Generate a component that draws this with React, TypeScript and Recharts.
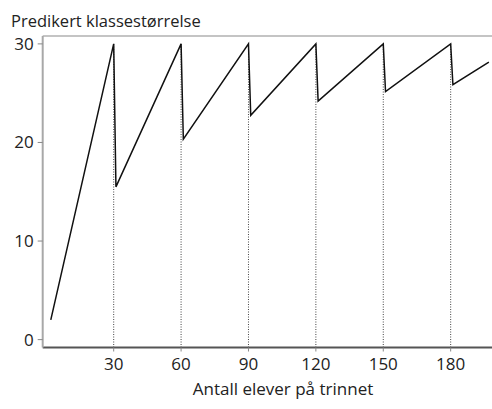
import React from "react";
import { LineChart, Line, XAxis, YAxis, ReferenceLine } from "recharts";

const students = [2, 30, 31, 60, 61, 90, 91, 120, 121, 150, 151, 180, 181, 197];
const classSize = [2, 30, 15.5, 30, 20.33, 30, 22.75, 30, 24.2, 30, 25.17, 30, 25.86, 28.14];
const xTicks = [30, 60, 90, 120, 150, 180];
const yTicks = [0, 10, 20, 30];
const cutoffs = [30, 60, 90, 120, 150, 180];

const X_DOMAIN: [number, number] = [-1.6, 198.4];
const Y_DOMAIN: [number, number] = [-0.8, 30.8];

const data = students.map((n, i) => ({ n, v: classSize[i] }));

const FONT = "'Open Sans', 'Noto Sans', sans-serif";

export default function App() {
  return (
    <div style={{ position: "absolute", left: 0, top: 0, width: 492, height: 409, background: "#fff" }}>
      <LineChart
        width={492}
        height={409}
        data={data}
        margin={{ top: 36, right: 0, bottom: 0, left: 0 }}
      >
        <XAxis
          dataKey="n"
          type="number"
          domain={X_DOMAIN}
          ticks={xTicks}
          height={61.5}
          axisLine={{ stroke: "#555", strokeWidth: 2 }}
          tickLine={{ stroke: "#888" }}
          tickSize={4}
          tickMargin={6}
          tick={{ fill: "#222", fontSize: 17, fontFamily: FONT }}
          allowDataOverflow
        />
        <YAxis
          type="number"
          domain={Y_DOMAIN}
          ticks={yTicks}
          width={42.7}
          axisLine={{ stroke: "#a8a8a8", strokeWidth: 2 }}
          tickLine={{ stroke: "#888" }}
          tickSize={5}
          tickMargin={4}
          tick={{ fill: "#222", fontSize: 17, fontFamily: FONT }}
          allowDataOverflow
        />
        <ReferenceLine y={Y_DOMAIN[1]} stroke="#b0b0b0" strokeWidth={1.5} ifOverflow="visible" />
        {cutoffs.map((c) => (
          <ReferenceLine
            key={c}
            segment={[{ x: c, y: Y_DOMAIN[0] }, { x: c, y: 30 }]}
            stroke="#444"
            strokeDasharray="1 1.5"
            strokeWidth={1}
            ifOverflow="visible"
          />
        ))}
        <Line
          type="linear"
          dataKey="v"
          stroke="#111"
          strokeWidth={1.5}
          dot={false}
          isAnimationActive={false}
        />
      </LineChart>
      <div
        style={{
          position: "absolute",
          left: 11,
          top: 8.5,
          fontFamily: FONT,
          fontSize: 16.5,
          lineHeight: "normal",
          color: "#222",
          whiteSpace: "nowrap",
        }}
      >
        Predikert klassestørrelse
      </div>
      <div
        style={{
          position: "absolute",
          left: 283,
          top: 376.8,
          transform: "translateX(-50%)",
          fontFamily: FONT,
          fontSize: 17,
          lineHeight: "normal",
          color: "#222",
          whiteSpace: "nowrap",
        }}
      >
        Antall elever på trinnet
      </div>
    </div>
  );
}
